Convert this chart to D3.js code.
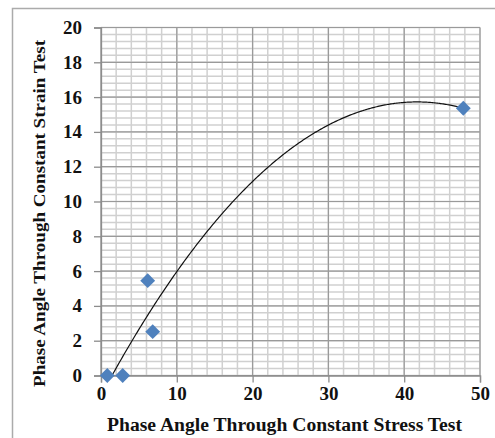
<!DOCTYPE html>
<html><head><meta charset="utf-8">
<script src="https://cdn.jsdelivr.net/npm/d3@7"></script>
<style>body{margin:0;background:#fff}svg{display:block}</style>
</head><body>
<script>
const xValues = [0.83, 2.86, 6.16, 6.82, 47.8];
const yValues = [0, 0, 5.45, 2.52, 15.36];
const xTicks = [0, 10, 20, 30, 40, 50];
const yTicks = [0, 2, 4, 6, 8, 10, 12, 14, 16, 18, 20];
const xTitle = "Phase Angle Through Constant Stress Test";
const yTitle = "Phase Angle Through Constant  Strain Test";

const W = 495, H = 438;
const svg = d3.select("body").append("svg").attr("width", W).attr("height", H);
svg.append("rect").attr("x", 12.5).attr("y", 8.5).attr("width", 600).attr("height", 600)
  .attr("fill", "none").attr("stroke", "#ababab").attr("stroke-width", 1.5);

const x = d3.scaleLinear().domain([0, 50]).range([101, 480]);
const y = d3.scaleLinear().domain([0, 20]).range([375.5, 27.5]);

const g = svg.append("g");
d3.range(0, 50.001, 2).forEach(v => {
  g.append("line").attr("x1", x(v)).attr("x2", x(v)).attr("y1", y(0)).attr("y2", y(20))
    .attr("stroke", "#d0d0d0").attr("stroke-width", 1.5);
});
d3.range(0, 20.001, 0.4).forEach(v => {
  g.append("line").attr("x1", x(0)).attr("x2", x(50)).attr("y1", y(v)).attr("y2", y(v))
    .attr("stroke", "#d0d0d0").attr("stroke-width", 1.5);
});
xTicks.forEach(v => {
  g.append("line").attr("x1", x(v)).attr("x2", x(v)).attr("y1", y(0)).attr("y2", y(20))
    .attr("stroke", "#9a9a9a").attr("stroke-width", 1.2);
});
yTicks.forEach(v => {
  g.append("line").attr("x1", x(0)).attr("x2", x(50)).attr("y1", y(v)).attr("y2", y(v))
    .attr("stroke", "#9a9a9a").attr("stroke-width", 1.2);
});

const font = "'Liberation Serif', 'Times New Roman', serif";
const xAxis = svg.append("g").attr("transform", `translate(0,${y(0)})`)
  .call(d3.axisBottom(x).tickValues(xTicks).tickSize(7).tickPadding(4).tickFormat(d3.format("d")));
const yAxis = svg.append("g").attr("transform", `translate(${x(0)},0)`)
  .call(d3.axisLeft(y).tickValues(yTicks).tickSize(7).tickPadding(12).tickFormat(d3.format("d")));
[xAxis, yAxis].forEach(a => {
  a.select(".domain").attr("stroke", "#8c8c8c").attr("stroke-width", 1.3);
  a.selectAll(".tick line").attr("stroke", "#8c8c8c").attr("stroke-width", 1.3);
  a.selectAll("text").attr("font-family", font).attr("font-weight", "bold")
    .attr("font-size", 19).attr("fill", "#111");
});

function polyfit2(xs, ys) {
  const n = xs.length;
  let S = [0,0,0,0,0], T = [0,0,0];
  for (let i = 0; i < n; i++) {
    for (let k = 0; k < 5; k++) S[k] += Math.pow(xs[i], k);
    for (let k = 0; k < 3; k++) T[k] += ys[i] * Math.pow(xs[i], k);
  }
  const A = [[S[0],S[1],S[2],T[0]],[S[1],S[2],S[3],T[1]],[S[2],S[3],S[4],T[2]]];
  for (let i = 0; i < 3; i++) {
    let p = i; for (let r = i+1; r < 3; r++) if (Math.abs(A[r][i]) > Math.abs(A[p][i])) p = r;
    [A[i], A[p]] = [A[p], A[i]];
    for (let r = 0; r < 3; r++) if (r !== i) {
      const f = A[r][i] / A[i][i];
      for (let c = i; c < 4; c++) A[r][c] -= f * A[i][c];
    }
  }
  return [A[0][3]/A[0][0], A[1][3]/A[1][1], A[2][3]/A[2][2]];
}
const coef = polyfit2(xValues, yValues);
const xmin = d3.min(xValues), xmax = d3.max(xValues);
const trend = d3.range(xmin, xmax + 0.001, (xmax - xmin) / 300)
  .map(v => [v, coef[0] + coef[1]*v + coef[2]*v*v]);
svg.append("clipPath").attr("id", "clip").append("rect")
  .attr("x", x(0)).attr("y", y(20)).attr("width", x(50) - x(0)).attr("height", y(0) - y(20));
svg.append("path").datum(trend).attr("clip-path", "url(#clip)")
  .attr("fill", "none").attr("stroke", "#111").attr("stroke-width", 1.2)
  .attr("d", d3.line().x(d => x(d[0])).y(d => y(d[1])));

const pts = xValues.map((v, i) => [v, yValues[i]]);
svg.selectAll(".pt").data(pts).join("path").attr("class", "pt")
  .attr("transform", d => `translate(${x(d[0])},${y(d[1])}) rotate(45)`)
  .attr("d", d3.symbol(d3.symbolSquare, 110)())
  .attr("fill", "#4F81BD");

svg.append("text").attr("x", 284.5).attr("y", 431).attr("text-anchor", "middle")
  .attr("font-family", font).attr("font-weight", "bold").attr("font-size", 18).attr("fill", "#111")
  .attr("textLength", 355).attr("lengthAdjust", "spacingAndGlyphs")
  .text(xTitle);
svg.append("text").attr("transform", "translate(45,213.5) rotate(-90)").attr("text-anchor", "middle")
  .attr("font-family", font).attr("font-weight", "bold").attr("font-size", 17.5).attr("fill", "#111")
  .attr("textLength", 347).attr("lengthAdjust", "spacingAndGlyphs")
  .text(yTitle);
</script>
</body></html>
